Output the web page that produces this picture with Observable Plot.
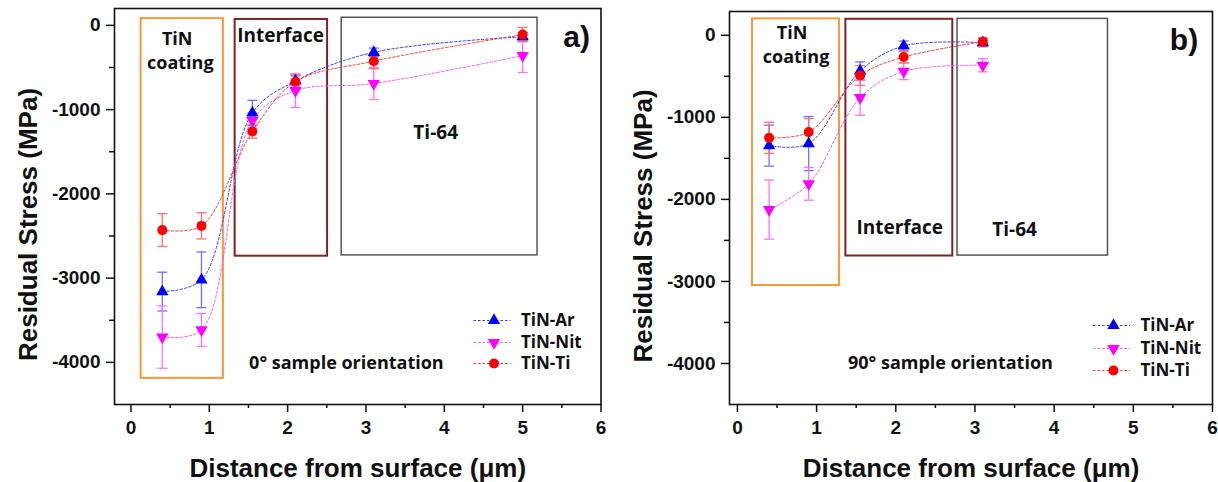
<!DOCTYPE html>
<html><head><meta charset="utf-8">
<script src="https://cdn.jsdelivr.net/npm/d3@7"></script>
<script src="https://cdn.jsdelivr.net/npm/@observablehq/plot@0.6"></script>
<style>
body{margin:0;background:#fff;}
#wrap{display:flex;width:1218px;height:482px;}
#wrap > div{width:609px;height:482px;}
</style></head><body><div id="wrap"><div id="a"></div><div id="b"></div></div>
<script>
// ---- data ----
const seriesNames = ["TiN-Ar", "TiN-Nit", "TiN-Ti"];
const xTicks = [0, 1, 2, 3, 4, 5, 6];
const xMinor = [0.5, 1.5, 2.5, 3.5, 4.5, 5.5];
const yTicks = [0, -1000, -2000, -3000, -4000];
const yMinor = [-500, -1500, -2500, -3500];
const xLabel = "Distance from surface (μm)";
const yLabel = "Residual Stress (MPa)";

// panel a) 0° orientation
const depthA = [0.4, 0.9, 1.55, 2.1, 3.1, 5.0];
const arA = [-3160, -3020, -1040, -660, -320, -135];
const arAErr = [230, 330, 150, 60, 50, 50];
const nitA = [-3700, -3615, -1130, -775, -690, -360];
const nitAErr = [370, 195, 90, 200, 190, 200];
const tiA = [-2430, -2380, -1260, -670, -425, -110];
const tiAErr = [195, 155, 80, 85, 90, 85];

// panel b) 90° orientation
const depthB = [0.4, 0.9, 1.55, 2.1, 3.1];
const arB = [-1345, -1320, -435, -130, -90];
const arBErr = [250, 330, 110, 60, 50];
const nitB = [-2125, -1810, -760, -440, -365];
const nitBErr = [360, 200, 215, 100, 80];
const tiB = [-1250, -1180, -490, -265, -80];
const tiBErr = [190, 165, 120, 70, 50];

// regions (x range in µm, y range in MPa)
const regionNames = ["TiN coating", "Interface", "Ti-64"];
const regionsA = [[0.13, 1.18, -4190, 80], [1.33, 2.51, -2740, 70], [2.69, 5.19, -2730, 90]];
const regionsB = [[0.19, 1.29, -3050, 200], [1.37, 2.72, -2690, 195], [2.78, 4.68, -2685, 200]];

// ---- styles ----
const markColors = ["#0000ff", "#ff00ff", "#ff0000"];
const lineColors = ["#3a3aff", "#ff55ff", "#ff3a3a"];
const errColors = ["#7070ff", "#ff70ff", "#ff7070"];
const regionColors = ["#f7993a", "#7f2222", "#555555"];
const annFont = "Open Sans";

const capSymbol = {draw(ctx, size) { const w = Math.sqrt(size / Math.PI); ctx.moveTo(-w, 0); ctx.lineTo(w, 0); }};

function rows(depth, vals, errs) { return depth.map((x, i) => ({x, y: vals[i], e: errs[i]})); }

function panel(el, cfg) {
  const marks = [];
  cfg.regions.forEach((r, i) => {
    marks.push(Plot.rect([r], {x1: d => d[0], x2: d => d[1], y1: d => d[2], y2: d => d[3], fill: "none", stroke: regionColors[i], strokeWidth: i === 2 ? 1.5 : 2}));
  });
  cfg.series.forEach((s, i) => {
    const data = rows(cfg.depth, s[0], s[1]);
    marks.push(Plot.line(data, {x: "x", y: "y", stroke: lineColors[i], strokeWidth: 1, strokeDasharray: "2.5,2", curve: "catmull-rom"}));
  });
  cfg.series.forEach((s, i) => {
    const data = rows(cfg.depth, s[0], s[1]);
    marks.push(Plot.ruleX(data, {x: "x", y1: d => d.y - d.e, y2: d => d.y + d.e, stroke: errColors[i], strokeWidth: 1.3}));
    marks.push(Plot.dot(data, {x: "x", y: d => d.y - d.e, symbol: capSymbol, r: 5, stroke: errColors[i], strokeWidth: 1.3}));
    marks.push(Plot.dot(data, {x: "x", y: d => d.y + d.e, symbol: capSymbol, r: 5, stroke: errColors[i], strokeWidth: 1.3}));
  });
  cfg.series.forEach((s, i) => {
    const data = rows(cfg.depth, s[0], s[1]);
    if (i === 2) marks.push(Plot.dot(data, {x: "x", y: "y", r: 5, fill: markColors[i], stroke: "none"}));
    else marks.push(Plot.dot(data, {x: "x", y: "y", symbol: "triangle", rotate: i === 1 ? 180 : 0, r: 4.6, fill: markColors[i], stroke: "none"}));
  });
  // region labels
  marks.push(Plot.text(cfg.labels, {x: "x", y: "y", text: "t", fontSize: "s", fontFamily: annFont, fontWeight: "bold", fill: "#111"}));
  marks.push(Plot.text([cfg.tag], {x: cfg.tagPos[0], y: cfg.tagPos[1], text: d => d, fontFamily: "Liberation Sans", fontWeight: "bold", fontSize: 30, fill: "#111"}));
  marks.push(Plot.text([cfg.orientation], {x: cfg.orientPos[0], y: cfg.orientPos[1], text: d => d, fontFamily: annFont, fontWeight: "bold", fontSize: 18, fill: "#111"}));
  // legend
  seriesNames.forEach((name, i) => {
    const dy = cfg.legend.rows[i];
    marks.push(Plot.dot([name], {frameAnchor: "bottom-right", dx: cfg.legend.sym - 2, dy, symbol: capSymbol, r: 18.5, stroke: lineColors[i], strokeWidth: 1, strokeDasharray: "2.5,2"}));
    if (i === 2) marks.push(Plot.dot([name], {frameAnchor: "bottom-right", dx: cfg.legend.sym, dy, r: 5, fill: markColors[i], stroke: "none"}));
    else marks.push(Plot.dot([name], {frameAnchor: "bottom-right", dx: cfg.legend.sym, dy, symbol: "triangle", rotate: i === 1 ? 180 : 0, r: 4.6, fill: markColors[i], stroke: "none"}));
    marks.push(Plot.text([name], {frameAnchor: "bottom-right", dx: cfg.legend.txt, dy, text: d => d, textAnchor: "start", lineAnchor: "middle", fontFamily: annFont, fontWeight: "bold", fontSize: 17, fill: "#111"}));
  });
  // axes
  marks.push(Plot.axisX({ticks: xTicks, tickSize: 8, tickPadding: 8, label: null, tickFormat: d => String(d), fontSize: 19, fontWeight: "bold", fontFamily: "Liberation Sans", strokeWidth: 1.5}));
  marks.push(Plot.axisX({ticks: xMinor, tickSize: 4, tickFormat: () => "", label: null, strokeWidth: 1.5}));
  marks.push(Plot.axisY({ticks: yTicks, tickSize: 8, tickPadding: 6, label: null, tickFormat: d => String(d), fontSize: 19, fontWeight: "bold", fontFamily: "Liberation Sans", strokeWidth: 1.5}));
  marks.push(Plot.axisY({ticks: yMinor, tickSize: 5, tickFormat: () => "", label: null, strokeWidth: 1.5}));
  marks.push(Plot.frame({stroke: "#111", strokeWidth: 1.6}));
  marks.push(Plot.text([yLabel], {frameAnchor: "left", rotate: -90, dx: -86, dy: 18, textAnchor: "middle", lineAnchor: "middle", text: d => d, fontFamily: "Liberation Sans", fontWeight: "bold", fontSize: 26, fill: "#111"}));
  marks.push(Plot.text([xLabel], {frameAnchor: "bottom", dy: 64, textAnchor: "middle", lineAnchor: "middle", text: d => d, fontFamily: "Liberation Sans", fontWeight: "bold", fontSize: 26, fill: "#111"}));

  const svg = Plot.plot({
    width: 609, height: 482,
    marginTop: cfg.m[0], marginRight: cfg.m[1], marginBottom: cfg.m[2], marginLeft: cfg.m[3],
    x: {domain: cfg.xDomain},
    y: {domain: cfg.yDomain},
    style: {background: "#fff", color: "#111", overflow: "visible"},
    marks
  });
  document.getElementById(el).appendChild(svg);
}

function labelRows(pos) {
  return pos.map(p => ({x: p[0], y: p[1], t: p[2], s: p[3]}));
}

panel("a", {
  depth: depthA,
  series: [[arA, arAErr], [nitA, nitAErr], [tiA, tiAErr]],
  regions: regionsA,
  labels: labelRows([[0.59, -160, "TiN", 18], [0.63, -450, "coating", 18], [1.91, -120, regionNames[1], 19], [3.89, -1275, regionNames[2], 19]]),
  tag: "a)", tagPos: [5.69, -140],
  orientation: "0° sample orientation", orientPos: [2.75, -4010],
  legend: {sym: -107, txt: -80, rows: [-84, -62, -41]},
  xDomain: [-0.21, 6], yDomain: [-4500, 200],
  m: [8, 8.5, 78, 114]
});
panel("b", {
  depth: depthB,
  series: [[arB, arBErr], [nitB, nitBErr], [tiB, tiBErr]],
  regions: regionsB,
  labels: labelRows([[0.69, 20, "TiN", 18], [0.74, -273, "coating", 18], [2.05, -2350, regionNames[1], 19], [3.5, -2368, regionNames[2], 19]]),
  tag: "b)", tagPos: [5.64, -61],
  orientation: "90° sample orientation", orientPos: [2.69, -4000],
  legend: {sym: -99, txt: -72, rows: [-79, -56, -34]},
  xDomain: [-0.1, 6], yDomain: [-4500, 290],
  m: [11, 6, 78, 120]
});
</script></body></html>
